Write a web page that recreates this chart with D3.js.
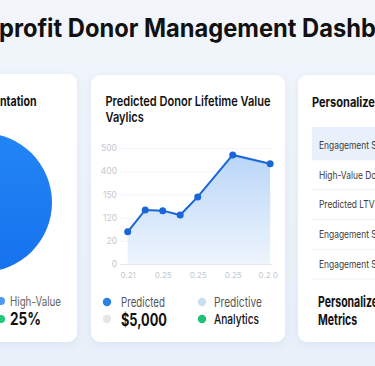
<!DOCTYPE html>
<html><head><meta charset="utf-8">
<script src="https://cdn.jsdelivr.net/npm/d3@7"></script>
<style>
html,body{margin:0;padding:0;overflow:hidden;background:#edf3fa;}
svg{display:block;font-family:Inter,"Noto Sans",sans-serif;}
</style></head>
<body><svg id="c" width="375" height="366"></svg>
<script>
// ---- data ----
const pageTitle = "Nonprofit Donor Management Dashboard";
const segTitle = "Donor Segmentation";
const segCategories = ["High-Value"];
const segValues = [100];
const segLegendLabels = ["High-Value", "25%"];

const ltvTitle = ["Predicted Donor Lifetime Value", "Vaylics"];
const ltvX = [0, 0.5, 1, 1.5, 2, 3, 4.07];
const ltvY = [139, 233, 230, 211, 289, 470, 432];
const xTicks = [0, 1, 2, 3, 4];
const xTickLabels = ["0.21", "0.25", "0.25", "0.25", "0.2 0"];
const yTicks = [0, 100, 200, 300, 400, 500];
const yTickLabels = ["0", "20", "120", "150", "400", "500"];
const ltvLegend = ["Predicted", "$5,000", "Predictive", "Analytics"];

const persTitle = "Personalized Outreach";
const persRows = ["Engagement Score", "High-Value Donors", "Predicted LTV", "Engagement Score", "Engagement Score"];
const persFooter = ["Personalized", "Metrics"];

// ---- drawing ----
const svg = d3.select("#c");
function width(str, size, weight) {
  const t = svg.append("text").attr("font-size",size).attr("font-weight",weight).text(str);
  const w = t.node().getComputedTextLength();
  t.remove();
  return w;
}
// text with a horizontal squeeze so that `sub` spans `target` px
function label(str, x, y, size, weight, fill, sub, target, anchor) {
  const k = target / width(sub, size, weight);
  const g = svg.append("g").attr("transform",`translate(${x},${y}) scale(${k},1)`);
  g.append("text").attr("font-size",size).attr("font-weight",weight).attr("fill",fill)
    .attr("text-anchor",anchor||"start").text(str);
  return g;
}
const defs = svg.append("defs");
const bg = defs.append("linearGradient").attr("id","bg").attr("x1",0).attr("y1",0).attr("x2",0).attr("y2",1);
bg.append("stop").attr("offset","0%").attr("stop-color","#f2f6fb");
bg.append("stop").attr("offset","100%").attr("stop-color","#e8f0fa");
const sh = defs.append("filter").attr("id","sh").attr("x","-20%").attr("y","-20%").attr("width","140%").attr("height","140%");
sh.append("feDropShadow").attr("dx",0).attr("dy",2).attr("stdDeviation",4).attr("flood-color","#9fb4cf").attr("flood-opacity",0.22);
const ag = defs.append("linearGradient").attr("id","ag").attr("x1",0).attr("y1",0).attr("x2",0).attr("y2",1);
ag.append("stop").attr("offset","0%").attr("stop-color","#b9d6f8");
ag.append("stop").attr("offset","100%").attr("stop-color","#eef5fd");
const pg = defs.append("linearGradient").attr("id","pg").attr("x1",0).attr("y1",0).attr("x2",0).attr("y2",1);
pg.append("stop").attr("offset","0%").attr("stop-color","#2285f4");
pg.append("stop").attr("offset","100%").attr("stop-color","#1672ee");

svg.append("rect").attr("width",375).attr("height",366).attr("fill","url(#bg)");

// title
const tSize = 25;
const tk = 377 / width("profit Donor Management Dashb", tSize, 700);
const nonW = width("Non", tSize, 700) * tk;
label(pageTitle, -nonW-1, 37, tSize, 700, "#111", "profit Donor Management Dashb", 377);

// cards
const cards = [[-30,74,107,268],[91,75,194,267],[298,75,110,267]];
svg.selectAll("rect.card").data(cards).join("rect").attr("class","card")
  .attr("x",d=>d[0]).attr("y",d=>d[1]).attr("width",d=>d[2]).attr("height",d=>d[3])
  .attr("rx",9).attr("fill","#ffffff").attr("filter","url(#sh)");

// left card: segmentation pie
label(segTitle, 36.5, 106, 13, 700, "#111", "ntation", 36.5, "end");
const pie = d3.pie().sort(null)(segValues);
const arc = d3.arc().innerRadius(0).outerRadius(69.5);
svg.append("g").attr("transform","translate(-17.5,202.5)")
  .selectAll("path").data(pie).join("path").attr("d",arc).attr("fill","url(#pg)");
svg.append("circle").attr("cx",1).attr("cy",301).attr("r",4).attr("fill","#4f98ef");
svg.append("circle").attr("cx",1).attr("cy",319).attr("r",4).attr("fill","#1fc97a");
label(segLegendLabels[0], 10, 305.5, 12.5, 400, "#666", segLegendLabels[0], 51);
label(segLegendLabels[1], 10, 325, 17, 700, "#111", segLegendLabels[1], 31);

// middle card: line chart
label(ltvTitle[0], 105.5, 106, 13.5, 600, "#111", ltvTitle[0], 165);
label(ltvTitle[1], 105.5, 122, 13.5, 600, "#111", ltvTitle[0], 165);

const x = d3.scaleLinear().domain([0,4]).range([127.7,267.7]);
const y = d3.scaleLinear().domain([0,500]).range([264,148]);

const gy = svg.append("g").attr("transform","translate(120,0)")
  .call(d3.axisLeft(y).tickValues(yTicks).tickSize(-152).tickPadding(3)
    .tickFormat((d,i)=>yTickLabels[i]));
gy.select(".domain").remove();
gy.selectAll(".tick line").attr("stroke",(d)=>d===0?"#e4e8ee":"#f3f5f8");
gy.selectAll(".tick text").attr("fill","#c3c8cf").attr("font-size",8.5).attr("font-family","Inter,sans-serif");

const gx = svg.append("g").attr("transform","translate(0,264)")
  .call(d3.axisBottom(x).tickValues(xTicks).tickSize(0).tickPadding(8)
    .tickFormat((d,i)=>xTickLabels[i]));
gx.select(".domain").remove();
gx.selectAll(".tick text").attr("fill","#c3c8cf").attr("font-size",8).attr("font-family","Inter,sans-serif");

const pts = ltvX.map((v,i)=>[v,ltvY[i]]);
svg.append("path").datum(pts)
  .attr("d",d3.area().x(d=>x(d[0])).y0(y(0)).y1(d=>y(d[1])))
  .attr("fill","url(#ag)");
svg.append("path").datum(pts)
  .attr("d",d3.line().x(d=>x(d[0])).y(d=>y(d[1])))
  .attr("fill","none").attr("stroke","#1a66d6").attr("stroke-width",2);
svg.selectAll("circle.pt").data(pts).join("circle").attr("class","pt")
  .attr("cx",d=>x(d[0])).attr("cy",d=>y(d[1])).attr("r",3.5).attr("fill","#1a66d6");

const legDots = [[107,302,"#2b80ea"],[107,319,"#e4e6e9"],[202,302,"#cbdff3"],[202,319,"#1cc274"]];
svg.selectAll("circle.lg").data(legDots).join("circle").attr("class","lg")
  .attr("cx",d=>d[0]).attr("cy",d=>d[1]).attr("r",4.2).attr("fill",d=>d[2]);
const legText = [[121,306.5,13,400,"#555",44],[121,325.5,17,700,"#111",46],[214,306.5,13,400,"#555",48],[214,323.5,13,500,"#111",45]];
legText.forEach((d,i)=>label(ltvLegend[i], d[0], d[1], d[2], d[3], d[4], ltvLegend[i], d[5]));

// right card
label(persTitle, 312, 106.5, 13, 700, "#111", "Personalize", 63);
svg.append("rect").attr("x",312).attr("y",127).attr("width",80).attr("height",33).attr("fill","#e7f0fb");
const rowY = d3.scaleBand().domain(d3.range(persRows.length)).range([130,279]);
svg.selectAll("line.sep").data(persRows).join("line").attr("class","sep")
  .attr("x1",312).attr("x2",380).attr("y1",(d,i)=>rowY(i)+rowY.bandwidth()).attr("y2",(d,i)=>rowY(i)+rowY.bandwidth())
  .attr("stroke","#eef0f3");
persRows.forEach((r,i)=>label(r, 319, rowY(i)+rowY.bandwidth()/2+3.8, 10.5, 400, "#3a3a3a", "Engagement ", 50));
label(persFooter[0], 318, 307, 15, 700, "#111", "Personaliz", 54);
label(persFooter[1], 318, 325, 15, 700, "#111", "Personaliz", 54);
</script></body></html>
